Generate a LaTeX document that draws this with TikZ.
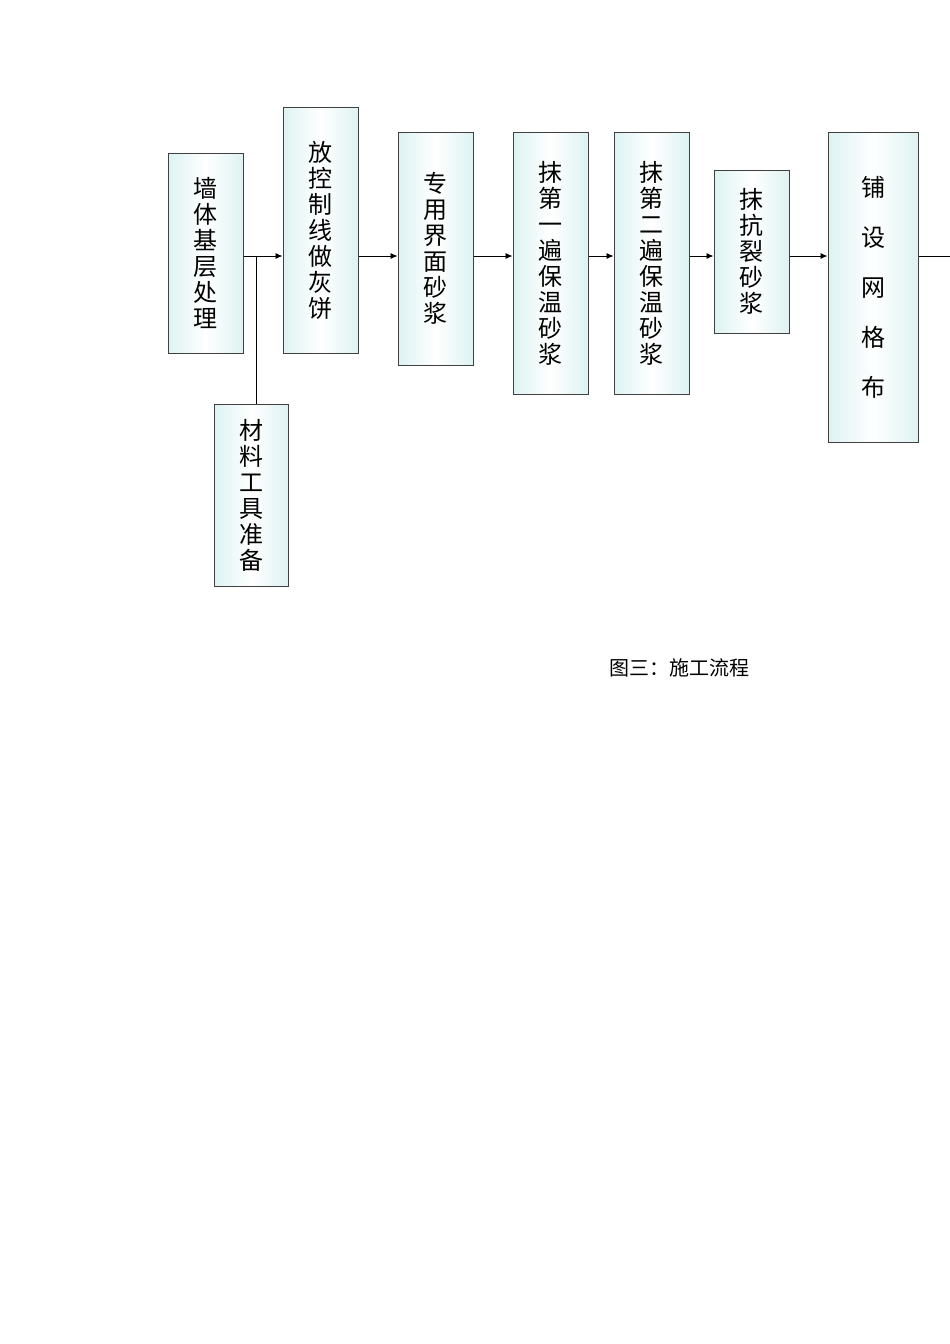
\documentclass[tikz,border=0pt]{standalone}
\usepackage{fontspec}
\newfontfamily\cjk{Noto Sans CJK SC}
\begin{document}
\begin{tikzpicture}[x=1pt,y=-1pt,
  box/.style={draw=black!75,line width=1pt,left color=cyan!10!white!75!teal!40,right color=cyan!10!white!75!teal!40,middle color=white,
    shading angle=90,inner sep=0pt,font=\cjk\fontsize{24}{26}\selectfont,align=center},
  conn/.style={line width=0.9pt,-{Latex[length=7pt,width=6pt]}}]
\useasboundingbox (0,0) rectangle (950,1344);
\usetikzlibrary{arrows.meta}
\node[box,minimum width=75,minimum height=200] (b1) at (205.5,253) {墙\\体\\基\\层\\处\\理};
\node[box,minimum width=75,minimum height=246] (b2) at (320.5,230) {放\\控\\制\\线\\做\\灰\\饼};
\node[box,minimum width=75,minimum height=233] (b3) at (435.5,248.5) {专\\用\\界\\面\\砂\\浆};
\node[box,minimum width=75,minimum height=262] (b4) at (550.5,263) {抹\\第\\一\\遍\\保\\温\\砂\\浆};
\node[box,minimum width=75,minimum height=262] (b5) at (651.5,263) {抹\\第\\二\\遍\\保\\温\\砂\\浆};
\node[box,minimum width=75,minimum height=163] (b6) at (751.5,251.5) {抹\\抗\\裂\\砂\\浆};
\node[box,minimum width=90,minimum height=310,font=\cjk\fontsize{24}{50}\selectfont] (b7) at (873,287) {铺\\设\\网\\格\\布};
\node[box,minimum width=74,minimum height=182] (b8) at (251,495) {材\\料\\工\\具\\准\\备};
\coordinate (j) at (256,256);
\coordinate (e) at (950,256);
\draw[line width=0.9pt] (b1.east|-j) -- (j);
\draw[conn] (j) -- (b2.west|-j);
\draw[line width=0.9pt] (b8.north-|j) -- (j);
\draw[conn] (b2.east|-j) -- (b3.west|-j);
\draw[conn] (b3.east|-j) -- (b4.west|-j);
\draw[conn] (b4.east|-j) -- (b5.west|-j);
\draw[conn] (b5.east|-j) -- (b6.west|-j);
\draw[conn] (b6.east|-j) -- (b7.west|-j);
\draw[line width=0.9pt] (b7.east|-e) -- (e);
\node[font=\cjk\fontsize{20}{22}\selectfont] (cap) at (679,668) {图三：施工流程};
\end{tikzpicture}
\end{document}
